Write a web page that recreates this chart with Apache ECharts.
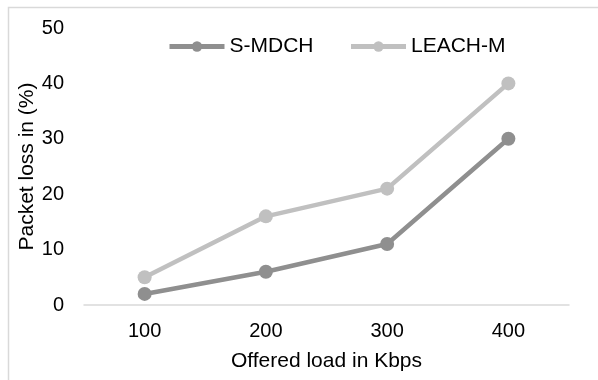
<!DOCTYPE html>
<html><head><meta charset="utf-8">
<script src="https://cdn.jsdelivr.net/npm/echarts@6/dist/echarts.min.js"></script>
<style>html,body{margin:0;padding:0;background:#fff}#c{width:598px;height:380px}</style>
</head><body><div id="c"></div>
<script>
const categories = ['100','200','300','400'];
const smdch = [2, 6, 11, 30];
const leachm = [5, 16, 21, 40];
const seriesNames = ['S-MDCH','LEACH-M'];
const chart = echarts.init(document.getElementById('c'), null, {renderer:'canvas'});
const font = 'Liberation Sans, Arial, sans-serif';
chart.setOption({
  animation:false,
  graphic:[{type:'rect',shape:{x:8.5,y:7.5,width:700,height:500},style:{fill:'none',stroke:'#d9d9d9',lineWidth:1.5},silent:true}],
  grid:{left:84,right:29,top:28,bottom:75},
  legend:{left:167,top:36,padding:0,itemWidth:55,itemHeight:13,itemGap:35,
    lineStyle:{width:5},
    textStyle:{fontFamily:font,fontSize:21,color:'#000'},
    data:seriesNames},
  xAxis:{type:'category',data:categories,boundaryGap:true,
    name:'Offered load in Kbps',nameLocation:'middle',nameGap:46,nameMoveOverlap:false,
    nameTextStyle:{fontFamily:font,fontSize:21,color:'#000'},
    axisLine:{lineStyle:{color:'#d9d9d9',width:1.5}},axisTick:{show:false},
    axisLabel:{fontFamily:font,fontSize:20,color:'#000',margin:16}},
  yAxis:{type:'value',min:0,max:50,interval:10,
    name:'Packet loss in (%)',nameLocation:'middle',nameGap:46,nameMoveOverlap:false,
    nameTextStyle:{fontFamily:font,fontSize:21,color:'#000'},
    axisLine:{show:false},axisTick:{show:false},splitLine:{show:false},
    axisLabel:{fontFamily:font,fontSize:20,color:'#000',margin:20}},
  series:[
    {name:seriesNames[0],type:'line',data:smdch,symbol:'circle',symbolSize:14,
      itemStyle:{color:'#8f8f8f'},lineStyle:{color:'#8f8f8f',width:4.5}},
    {name:seriesNames[1],type:'line',data:leachm,symbol:'circle',symbolSize:14,
      itemStyle:{color:'#c0c0c0'},lineStyle:{color:'#c0c0c0',width:4.5}}
  ]
});
</script></body></html>
